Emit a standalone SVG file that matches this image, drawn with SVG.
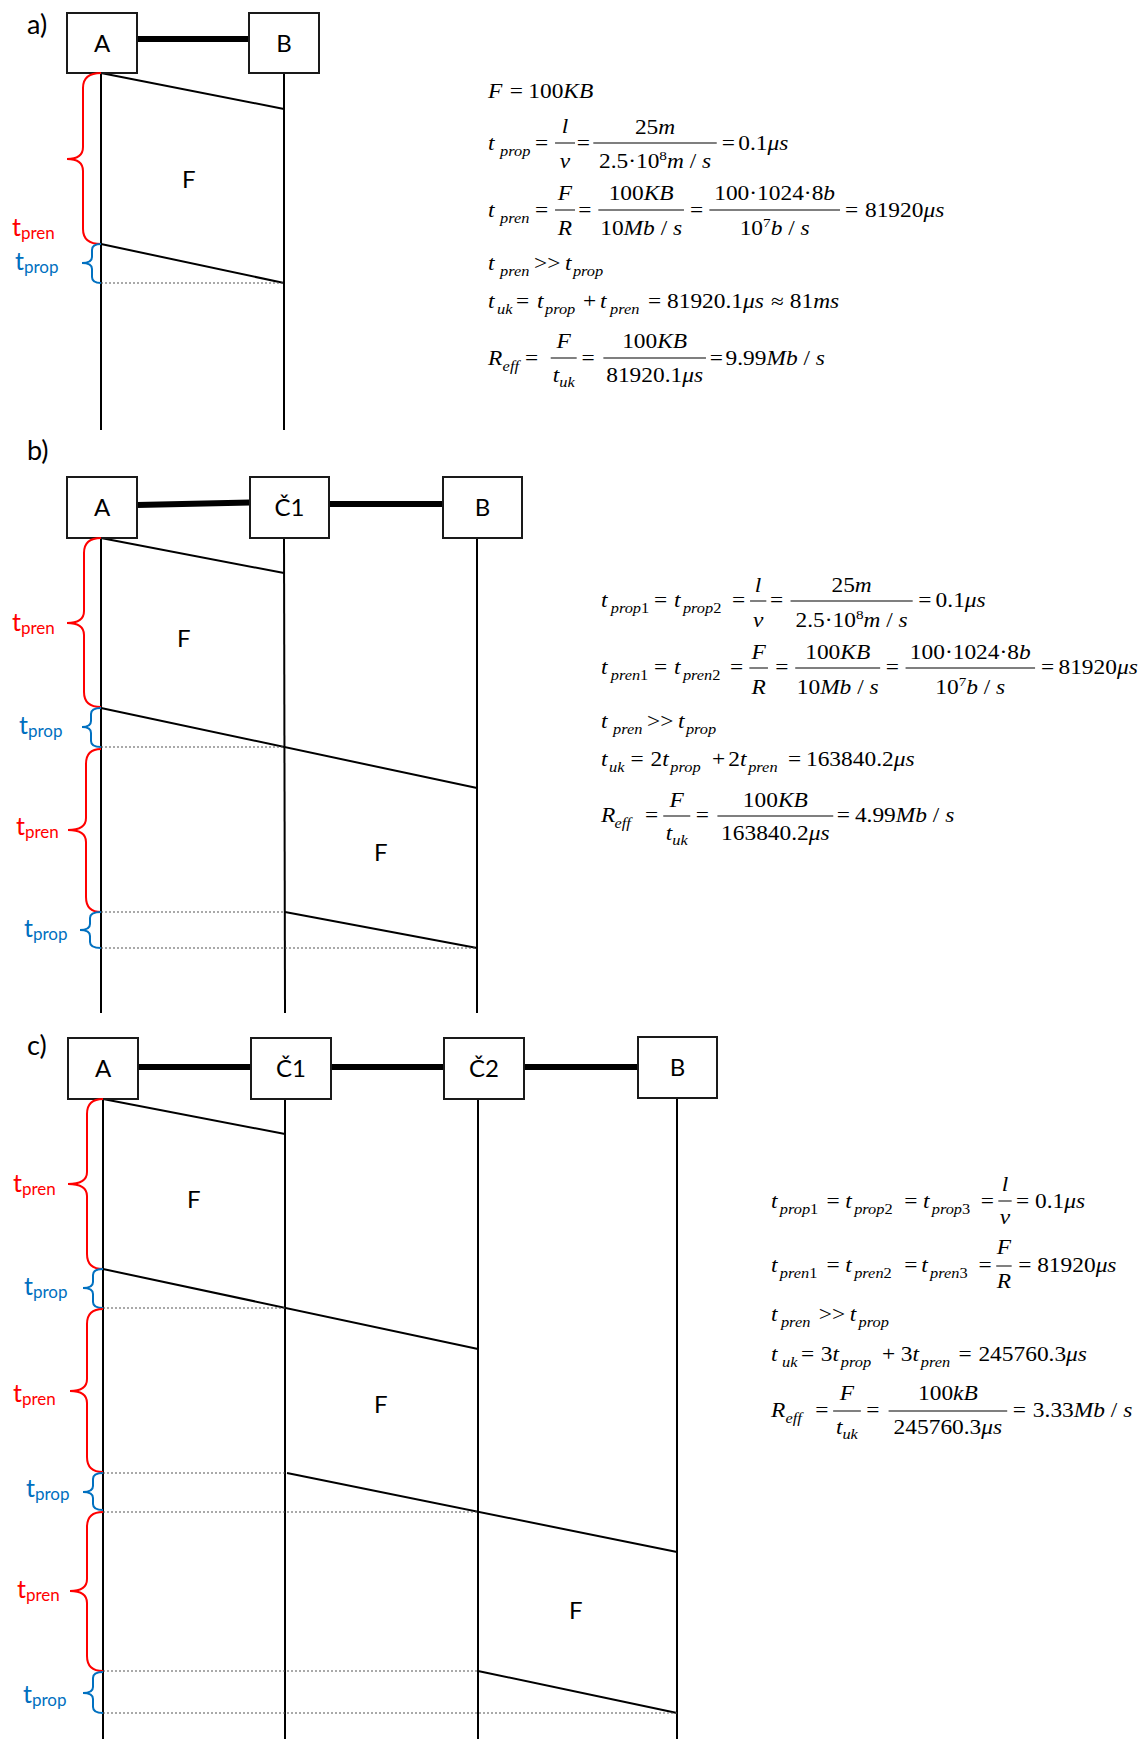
<svg xmlns="http://www.w3.org/2000/svg" width="1147" height="1739" viewBox="0 0 1147 1739">
<style>
.bg{fill:#fff}
.box{fill:#fff;stroke:#1a1a1a;stroke-width:2}
.lbl{font-family:Lato,"Open Sans",sans-serif;font-size:24px;fill:#000}
.sec{font-family:Lato,"Open Sans",sans-serif;font-size:27px;fill:#000}
.link{stroke:#000;stroke-width:6}
.life{stroke:#000;stroke-width:2}
.msg{stroke:#000;stroke-width:2}
.dot{stroke:#555;stroke-width:1.2;stroke-dasharray:2 2}
.bred{fill:none;stroke:#ff0000;stroke-width:2}
.bblue{fill:none;stroke:#0070c0;stroke-width:2}
.tr{font-family:Lato,"Open Sans",sans-serif;font-size:25px;fill:#ff0000}
.tb{font-family:Lato,"Open Sans",sans-serif;font-size:25px;fill:#0070c0}
.sub{font-size:17px}
.m{font-family:"Liberation Serif","Times New Roman","DejaVu Serif",serif;font-size:20px;fill:#000}
.i{font-style:italic}
.s{font-size:14px}
.p{font-size:13px}
.bar{stroke:#000;stroke-width:1}
</style>
<rect class="bg" x="0" y="0" width="1147" height="1739"/>

<g id="connectors">
  <line class="link" x1="137" y1="39" x2="249" y2="39"/>
  <line class="life" x1="101" y1="73" x2="101" y2="430"/>
  <line class="life" x1="284" y1="73" x2="284" y2="430"/>
  <line class="msg" x1="101" y1="73" x2="284" y2="109"/>
  <line class="msg" x1="101" y1="244" x2="284" y2="283"/>
  <line class="dot" x1="101" y1="283" x2="284" y2="283"/>
  <line class="link" x1="137" y1="505" x2="250" y2="502.5"/>
  <line class="link" x1="329" y1="504" x2="443" y2="504"/>
  <line class="life" x1="101" y1="538" x2="101" y2="1013"/>
  <line class="life" x1="284" y1="538" x2="285" y2="1013"/>
  <line class="life" x1="477" y1="538" x2="477" y2="1013"/>
  <line class="msg" x1="101" y1="538" x2="284" y2="573"/>
  <line class="msg" x1="101" y1="708" x2="477" y2="788"/>
  <line class="msg" x1="285" y1="912" x2="477" y2="948"/>
  <line class="dot" x1="101" y1="747" x2="284" y2="747"/>
  <line class="dot" x1="101" y1="912" x2="284" y2="912"/>
  <line class="dot" x1="101" y1="948" x2="477" y2="948"/>
  <line class="link" x1="138" y1="1067" x2="251" y2="1067"/>
  <line class="link" x1="331" y1="1067" x2="444" y2="1067"/>
  <line class="link" x1="524" y1="1067" x2="638" y2="1067"/>
  <line class="life" x1="103" y1="1099" x2="103" y2="1739"/>
  <line class="life" x1="285" y1="1099" x2="285" y2="1739"/>
  <line class="life" x1="478" y1="1099" x2="478" y2="1739"/>
  <line class="life" x1="677" y1="1098" x2="677" y2="1739"/>
  <line class="msg" x1="103" y1="1099" x2="285" y2="1134"/>
  <line class="msg" x1="103" y1="1269" x2="478" y2="1349"/>
  <line class="msg" x1="287" y1="1473" x2="677" y2="1552"/>
  <line class="msg" x1="478" y1="1671" x2="677" y2="1713"/>
  <line class="dot" x1="103" y1="1308" x2="285" y2="1308"/>
  <line class="dot" x1="103" y1="1473" x2="285" y2="1473"/>
  <line class="dot" x1="103" y1="1512" x2="478" y2="1512"/>
  <line class="dot" x1="103" y1="1671" x2="478" y2="1671"/>
  <line class="dot" x1="103" y1="1713" x2="677" y2="1713"/>
</g>

<text class="sec" x="27" y="34">a)</text>
<text class="sec" x="27" y="460">b)</text>
<text class="sec" x="27" y="1055">c)</text>

<g id="a-A"><rect class="box" x="67" y="13" width="70" height="60"/><text class="lbl" x="102" y="52" text-anchor="middle">A</text></g>
<g id="a-B"><rect class="box" x="249" y="13" width="70" height="60"/><text class="lbl" x="284" y="52" text-anchor="middle">B</text></g>
<g id="b-A"><rect class="box" x="67" y="477" width="70" height="61"/><text class="lbl" x="102" y="516" text-anchor="middle">A</text></g>
<g id="b-C1"><rect class="box" x="250" y="477" width="79" height="61"/><text class="lbl" x="289.5" y="516" text-anchor="middle">Č1</text></g>
<g id="b-B"><rect class="box" x="443" y="477" width="79" height="61"/><text class="lbl" x="482.5" y="516" text-anchor="middle">B</text></g>
<g id="c-A"><rect class="box" x="68" y="1038" width="70" height="61"/><text class="lbl" x="103" y="1077" text-anchor="middle">A</text></g>
<g id="c-C1"><rect class="box" x="251" y="1038" width="80" height="61"/><text class="lbl" x="291" y="1077" text-anchor="middle">Č1</text></g>
<g id="c-C2"><rect class="box" x="444" y="1038" width="80" height="61"/><text class="lbl" x="484" y="1077" text-anchor="middle">Č2</text></g>
<g id="c-B"><rect class="box" x="638" y="1037" width="79" height="61"/><text class="lbl" x="677.5" y="1076" text-anchor="middle">B</text></g>

<g id="frames">
  <text class="lbl" x="182" y="188">F</text>
  <text class="lbl" x="177" y="647">F</text>
  <text class="lbl" x="374" y="861">F</text>
  <text class="lbl" x="187" y="1208">F</text>
  <text class="lbl" x="374" y="1413">F</text>
  <text class="lbl" x="569" y="1619">F</text>
</g>

<g id="braces">
  <path class="bred" d="M101,73 Q83,73 83,88 L83,147 Q83,159 67,159 Q83,159 83,171 L83,229 Q83,244 101,244"/>
  <path class="bblue" d="M101,244 Q92,244 92,250 L92,257 Q92,263 82,263 Q92,263 92,269 L92,277 Q92,283 101,283"/>
  <path class="bred" d="M101,538 Q84,538 84,553 L84,611 Q84,623 67,623 Q84,623 84,635 L84,692 Q84,707 101,707"/>
  <path class="bblue" d="M101,708 Q91,708 91,714 L91,721 Q91,727 82,727 Q91,727 91,733 L91,741 Q91,747 101,747"/>
  <path class="bred" d="M101,749 Q86,749 86,764 L86,818 Q86,830 68,830 Q86,830 86,842 L86,897 Q86,912 101,912"/>
  <path class="bblue" d="M101,912 Q90,912 90,918 L90,924 Q90,930 80,930 Q90,930 90,936 L90,942 Q90,948 101,948"/>
  <path class="bred" d="M103,1099 Q87,1099 87,1114 L87,1172 Q87,1184 68,1184 Q87,1184 87,1196 L87,1254 Q87,1269 103,1269"/>
  <path class="bblue" d="M103,1269 Q93,1269 93,1275 L93,1282 Q93,1288 83,1288 Q93,1288 93,1294 L93,1302 Q93,1308 103,1308"/>
  <path class="bred" d="M103,1309 Q87,1309 87,1324 L87,1379 Q87,1391 70,1391 Q87,1391 87,1403 L87,1457 Q87,1472 103,1472"/>
  <path class="bblue" d="M103,1473 Q93,1473 93,1479 L93,1486 Q93,1492 83,1492 Q93,1492 93,1498 L93,1504 Q93,1510 103,1510"/>
  <path class="bred" d="M103,1512 Q87,1512 87,1527 L87,1579 Q87,1591 70,1591 Q87,1591 87,1603 L87,1656 Q87,1671 103,1671"/>
  <path class="bblue" d="M103,1672 Q93,1672 93,1678 L93,1687 Q93,1693 83,1693 Q93,1693 93,1699 L93,1707 Q93,1713 103,1713"/>
</g>

<g id="timelabels">
  <text class="tr" x="12" y="236">t<tspan class="sub" dy="3">pren</tspan></text>
  <text class="tb" x="15" y="270">t<tspan class="sub" dy="3">prop</tspan></text>
  <text class="tr" x="12" y="631">t<tspan class="sub" dy="3">pren</tspan></text>
  <text class="tb" x="19" y="734">t<tspan class="sub" dy="3">prop</tspan></text>
  <text class="tr" x="16" y="835">t<tspan class="sub" dy="3">pren</tspan></text>
  <text class="tb" x="24" y="937">t<tspan class="sub" dy="3">prop</tspan></text>
  <text class="tr" x="13" y="1192">t<tspan class="sub" dy="3">pren</tspan></text>
  <text class="tb" x="24" y="1295">t<tspan class="sub" dy="3">prop</tspan></text>
  <text class="tr" x="13" y="1402">t<tspan class="sub" dy="3">pren</tspan></text>
  <text class="tb" x="26" y="1497">t<tspan class="sub" dy="3">prop</tspan></text>
  <text class="tr" x="17" y="1598">t<tspan class="sub" dy="3">pren</tspan></text>
  <text class="tb" x="23" y="1703">t<tspan class="sub" dy="3">prop</tspan></text>
</g>

<g id="formula-a" transform="translate(488,0) scale(1.17,1)" font-family="Liberation Serif, Times New Roman, serif">
  <text class="m i" x="0" y="98">F</text>
  <text class="m" x="18.6" y="98">=</text>
  <text class="m" x="34.4" y="98">100<tspan class="i">KB</tspan></text>

  <text class="m i" x="0" y="150">t</text><text class="m i s" x="10.3" y="156">prop</text>
  <text class="m" x="40.2" y="150">=</text>
  <line class="bar" x1="57.3" y1="143" x2="74.4" y2="143"/>
  <text class="m i" x="65.8" y="133" text-anchor="middle">l</text>
  <text class="m i" x="65.8" y="168" text-anchor="middle">v</text>
  <text class="m" x="75.8" y="150">=</text>
  <line class="bar" x1="90" y1="143" x2="195.5" y2="143"/>
  <text class="m" x="142.8" y="134" text-anchor="middle">25<tspan class="i">m</tspan></text>
  <text class="m" x="142.8" y="168" text-anchor="middle">2.5·10<tspan class="p" dy="-8">8</tspan><tspan class="i" dy="8">m</tspan> / <tspan class="i">s</tspan></text>
  <text class="m" x="199.7" y="150">=</text>
  <text class="m" x="213.9" y="150">0.1<tspan class="i">μs</tspan></text>

  <text class="m i" x="0" y="217">t</text><text class="m i s" x="10.3" y="223">pren</text>
  <text class="m" x="40.2" y="217">=</text>
  <line class="bar" x1="57.3" y1="210" x2="74.4" y2="210"/>
  <text class="m i" x="65.8" y="200" text-anchor="middle">F</text>
  <text class="m i" x="65.8" y="235" text-anchor="middle">R</text>
  <text class="m" x="77.2" y="217">=</text>
  <line class="bar" x1="94.3" y1="210" x2="167.5" y2="210"/>
  <text class="m" x="130.9" y="200" text-anchor="middle">100<tspan class="i">KB</tspan></text>
  <text class="m" x="130.9" y="235" text-anchor="middle">10<tspan class="i">Mb</tspan> / <tspan class="i">s</tspan></text>
  <text class="m" x="172.6" y="217">=</text>
  <line class="bar" x1="189.2" y1="210" x2="300.9" y2="210"/>
  <text class="m" x="245" y="200" text-anchor="middle">100·1024·8<tspan class="i">b</tspan></text>
  <text class="m" x="245" y="235" text-anchor="middle">10<tspan class="p" dy="-8">7</tspan><tspan class="i" dy="8">b</tspan> / <tspan class="i">s</tspan></text>
  <text class="m" x="305.1" y="217">=</text>
  <text class="m" x="322.2" y="217">81920<tspan class="i">μs</tspan></text>

  <text class="m i" x="0" y="270">t</text><text class="m i s" x="10.3" y="276">pren</text>
  <text class="m" x="39.3" y="270">&gt;&gt;</text>
  <text class="m i" x="65.8" y="270">t</text><text class="m i s" x="72.6" y="276">prop</text>

  <text class="m i" x="0" y="308">t</text><text class="m i s" x="7.7" y="314">uk</text>
  <text class="m" x="23.9" y="308">=</text>
  <text class="m i" x="41.9" y="308">t</text><text class="m i s" x="48.7" y="314">prop</text>
  <text class="m" x="81.2" y="308">+</text>
  <text class="m i" x="95.7" y="308">t</text><text class="m i s" x="104.3" y="314">pren</text>
  <text class="m" x="136.8" y="308">=</text>
  <text class="m" x="153" y="308">81920.1<tspan class="i">μs</tspan></text>
  <text class="m" x="242" y="308">≈</text>
  <text class="m" x="258" y="308">81<tspan class="i">ms</tspan></text>

  <text class="m i" x="0" y="365">R</text><text class="m i s" x="12.5" y="371">eff</text>
  <text class="m" x="31.6" y="365">=</text>
  <line class="bar" x1="53.6" y1="358" x2="75.8" y2="358"/>
  <text class="m i" x="64.7" y="348" text-anchor="middle">F</text>
  <text class="m i" x="64.7" y="382" text-anchor="middle">t<tspan class="s" dy="5">uk</tspan></text>
  <text class="m" x="80" y="365">=</text>
  <line class="bar" x1="98.6" y1="358" x2="186.3" y2="358"/>
  <text class="m" x="142.4" y="348" text-anchor="middle">100<tspan class="i">KB</tspan></text>
  <text class="m" x="142.4" y="382" text-anchor="middle">81920.1<tspan class="i">μs</tspan></text>
  <text class="m" x="189.5" y="365">=</text>
  <text class="m" x="203" y="365">9.99<tspan class="i">Mb</tspan> / <tspan class="i">s</tspan></text>
</g>

<g id="formula-b" transform="translate(601,0) scale(1.17,1)" font-family="Liberation Serif, Times New Roman, serif">
  <text class="m i" x="0" y="607">t</text><text class="m s" x="8.3" y="613"><tspan class="i">prop</tspan>1</text>
  <text class="m" x="45.4" y="607">=</text>
  <text class="m i" x="62.4" y="607">t</text><text class="m s" x="70" y="613"><tspan class="i">prop</tspan>2</text>
  <text class="m" x="111.9" y="607">=</text>
  <line class="bar" x1="127.4" y1="601" x2="141.3" y2="601"/>
  <text class="m i" x="134.3" y="592" text-anchor="middle">l</text>
  <text class="m i" x="134.3" y="627" text-anchor="middle">v</text>
  <text class="m" x="144.4" y="607">=</text>
  <line class="bar" x1="162" y1="601" x2="266.4" y2="601"/>
  <text class="m" x="214.2" y="592" text-anchor="middle">25<tspan class="i">m</tspan></text>
  <text class="m" x="214.2" y="627" text-anchor="middle">2.5·10<tspan class="p" dy="-8">8</tspan><tspan class="i" dy="8">m</tspan> / <tspan class="i">s</tspan></text>
  <text class="m" x="271.1" y="607">=</text>
  <text class="m" x="286" y="607">0.1<tspan class="i">μs</tspan></text>

  <text class="m i" x="0" y="674">t</text><text class="m s" x="8.3" y="680"><tspan class="i">pren</tspan>1</text>
  <text class="m" x="45.4" y="674">=</text>
  <text class="m i" x="62.4" y="674">t</text><text class="m s" x="70" y="680"><tspan class="i">pren</tspan>2</text>
  <text class="m" x="110.3" y="674">=</text>
  <line class="bar" x1="126.8" y1="668" x2="142.7" y2="668"/>
  <text class="m i" x="134.7" y="659" text-anchor="middle">F</text>
  <text class="m i" x="134.7" y="694" text-anchor="middle">R</text>
  <text class="m" x="149" y="674">=</text>
  <line class="bar" x1="166" y1="668" x2="238.6" y2="668"/>
  <text class="m" x="202.3" y="659" text-anchor="middle">100<tspan class="i">KB</tspan></text>
  <text class="m" x="202.3" y="694" text-anchor="middle">10<tspan class="i">Mb</tspan> / <tspan class="i">s</tspan></text>
  <text class="m" x="243.3" y="674">=</text>
  <line class="bar" x1="260.3" y1="668" x2="371" y2="668"/>
  <text class="m" x="315.6" y="659" text-anchor="middle">100·1024·8<tspan class="i">b</tspan></text>
  <text class="m" x="315.6" y="694" text-anchor="middle">10<tspan class="p" dy="-8">7</tspan><tspan class="i" dy="8">b</tspan> / <tspan class="i">s</tspan></text>
  <text class="m" x="376" y="674">=</text>
  <text class="m" x="391" y="674">81920<tspan class="i">μs</tspan></text>

  <text class="m i" x="0" y="728">t</text><text class="m i s" x="10.3" y="734">pren</text>
  <text class="m" x="39.3" y="728">&gt;&gt;</text>
  <text class="m i" x="65.8" y="728">t</text><text class="m i s" x="72.6" y="734">prop</text>

  <text class="m i" x="0" y="766">t</text><text class="m i s" x="6.8" y="772">uk</text>
  <text class="m" x="25.3" y="766">=</text>
  <text class="m" x="42.3" y="766">2<tspan class="i">t</tspan></text><text class="m i s" x="59.3" y="772">prop</text>
  <text class="m" x="94.9" y="766">+</text>
  <text class="m" x="108.8" y="766">2<tspan class="i">t</tspan></text><text class="m i s" x="125.8" y="772">pren</text>
  <text class="m" x="159.8" y="766">=</text>
  <text class="m" x="175.2" y="766">163840.2<tspan class="i">μs</tspan></text>

  <text class="m i" x="0" y="822">R</text><text class="m i s" x="11.5" y="828">eff</text>
  <text class="m" x="37.7" y="822">=</text>
  <line class="bar" x1="53.2" y1="816" x2="76.3" y2="816"/>
  <text class="m i" x="64.7" y="807" text-anchor="middle">F</text>
  <text class="m i" x="64.7" y="840" text-anchor="middle">t<tspan class="s" dy="5">uk</tspan></text>
  <text class="m" x="81" y="822">=</text>
  <line class="bar" x1="99.5" y1="816" x2="198.5" y2="816"/>
  <text class="m" x="149" y="807" text-anchor="middle">100<tspan class="i">KB</tspan></text>
  <text class="m" x="149" y="840" text-anchor="middle">163840.2<tspan class="i">μs</tspan></text>
  <text class="m" x="201.5" y="822">=</text>
  <text class="m" x="217" y="822">4.99<tspan class="i">Mb</tspan> / <tspan class="i">s</tspan></text>
</g>

<g id="formula-c" transform="translate(771,0) scale(1.17,1)" font-family="Liberation Serif, Times New Roman, serif">
  <text class="m i" x="0" y="1208">t</text><text class="m s" x="7.5" y="1214"><tspan class="i">prop</tspan>1</text>
  <text class="m" x="47.4" y="1208">=</text>
  <text class="m i" x="63.5" y="1208">t</text><text class="m s" x="71.1" y="1214"><tspan class="i">prop</tspan>2</text>
  <text class="m" x="113.8" y="1208">=</text>
  <text class="m i" x="129.9" y="1208">t</text><text class="m s" x="137.4" y="1214"><tspan class="i">prop</tspan>3</text>
  <text class="m" x="179.2" y="1208">=</text>
  <line class="bar" x1="194.3" y1="1201" x2="205.7" y2="1201"/>
  <text class="m i" x="200" y="1191" text-anchor="middle">l</text>
  <text class="m i" x="200" y="1224" text-anchor="middle">v</text>
  <text class="m" x="209.5" y="1208">=</text>
  <text class="m" x="225.6" y="1208">0.1<tspan class="i">μs</tspan></text>

  <text class="m i" x="0" y="1272">t</text><text class="m s" x="7.5" y="1278"><tspan class="i">pren</tspan>1</text>
  <text class="m" x="47.4" y="1272">=</text>
  <text class="m i" x="63.5" y="1272">t</text><text class="m s" x="71.1" y="1278"><tspan class="i">pren</tspan>2</text>
  <text class="m" x="113.8" y="1272">=</text>
  <text class="m i" x="128.5" y="1272">t</text><text class="m s" x="136" y="1278"><tspan class="i">pren</tspan>3</text>
  <text class="m" x="177.3" y="1272">=</text>
  <line class="bar" x1="192.5" y1="1266" x2="205.7" y2="1266"/>
  <text class="m i" x="199" y="1254" text-anchor="middle">F</text>
  <text class="m i" x="199" y="1288" text-anchor="middle">R</text>
  <text class="m" x="211.4" y="1272">=</text>
  <text class="m" x="227.5" y="1272">81920<tspan class="i">μs</tspan></text>

  <text class="m i" x="0" y="1321">t</text><text class="m i s" x="8.5" y="1327">pren</text>
  <text class="m" x="40.8" y="1321">&gt;&gt;</text>
  <text class="m i" x="67.3" y="1321">t</text><text class="m i s" x="74.9" y="1327">prop</text>

  <text class="m i" x="0" y="1361">t</text><text class="m i s" x="9.4" y="1367">uk</text>
  <text class="m" x="25.6" y="1361">=</text>
  <text class="m" x="42.6" y="1361">3<tspan class="i">t</tspan></text><text class="m i s" x="59.7" y="1367">prop</text>
  <text class="m" x="94.8" y="1361">+</text>
  <text class="m" x="110.9" y="1361">3<tspan class="i">t</tspan></text><text class="m i s" x="128" y="1367">pren</text>
  <text class="m" x="160.2" y="1361">=</text>
  <text class="m" x="177.3" y="1361">245760.3<tspan class="i">μs</tspan></text>

  <text class="m i" x="0" y="1417">R</text><text class="m i s" x="12.3" y="1423">eff</text>
  <text class="m" x="37.9" y="1417">=</text>
  <line class="bar" x1="53.1" y1="1411" x2="76.8" y2="1411"/>
  <text class="m i" x="64.9" y="1400" text-anchor="middle">F</text>
  <text class="m i" x="64.9" y="1434" text-anchor="middle">t<tspan class="s" dy="5">uk</tspan></text>
  <text class="m" x="81.5" y="1417">=</text>
  <line class="bar" x1="100.5" y1="1411" x2="201.9" y2="1411"/>
  <text class="m" x="151.2" y="1400" text-anchor="middle">100<tspan class="i">kB</tspan></text>
  <text class="m" x="151.2" y="1434" text-anchor="middle">245760.3<tspan class="i">μs</tspan></text>
  <text class="m" x="206.7" y="1417">=</text>
  <text class="m" x="223.8" y="1417">3.33<tspan class="i">Mb</tspan> / <tspan class="i">s</tspan></text>
</g>
</svg>
